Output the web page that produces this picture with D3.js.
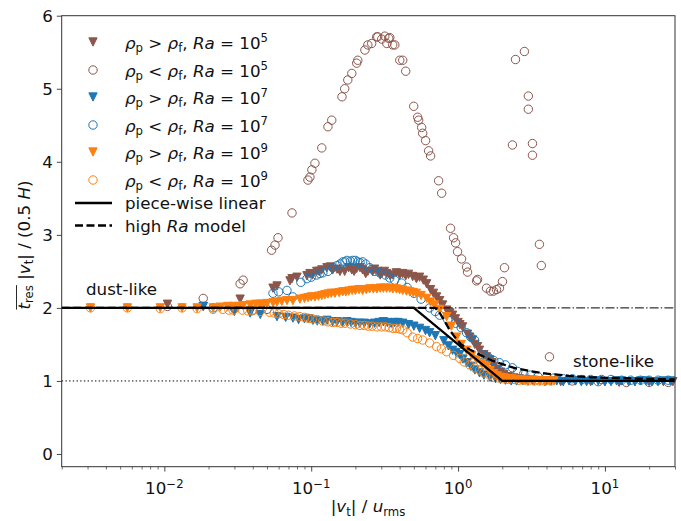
<!DOCTYPE html>
<html>
<head>
<meta charset="utf-8">
<script src="https://cdn.jsdelivr.net/npm/d3@7"></script>
<style>
  body { margin: 0; background: #fff; }
  svg { display: block; font-family: "DejaVu Sans", sans-serif; }
</style>
</head>
<body>
<svg id="chart" width="681" height="521"></svg>
<script>
// values
const brownTriX = [0.0105, 0.0184, 0.0328, 0.0549, 0.0585, 0.0717, 0.074, 0.08, 0.0935, 0.098, 0.102, 0.109, 0.113, 0.118, 0.128, 0.135, 0.14, 0.15, 0.157, 0.169, 0.18, 0.189, 0.196, 0.204, 0.215, 0.224, 0.235, 0.243, 0.262, 0.27, 0.284, 0.295, 0.302, 0.315, 0.327, 0.345, 0.359, 0.38, 0.401, 0.42, 0.44, 0.46, 0.491, 0.52, 0.547, 0.58, 0.611, 0.65, 0.68, 0.714, 0.75, 0.785, 0.836, 0.88, 0.918, 0.96, 1.0, 1.03, 1.073, 1.16, 1.2, 1.255, 1.3, 1.357, 1.4, 1.5, 1.562, 1.636, 1.7, 1.75, 1.85, 1.95, 2.05, 2.2, 2.4, 2.6, 2.9, 3.2, 4, 5, 6.3, 8, 10, 12.5, 16, 20, 25, 29];
const brownTriY = [2.05, 2.02, 2.12, 2.27, 2.3, 2.37, 2.4, 2.42, 2.44, 2.47, 2.45, 2.5, 2.5, 2.52, 2.55, 2.56, 2.52, 2.53, 2.5, 2.5, 2.55, 2.52, 2.5, 2.54, 2.55, 2.52, 2.47, 2.5, 2.5, 2.53, 2.5, 2.45, 2.47, 2.5, 2.47, 2.44, 2.45, 2.48, 2.45, 2.47, 2.44, 2.46, 2.43, 2.4, 2.42, 2.38, 2.33, 2.25, 2.2, 2.15, 2.1, 2.04, 1.97, 1.93, 1.9, 1.85, 1.8, 1.77, 1.74, 1.64, 1.6, 1.56, 1.5, 1.47, 1.42, 1.36, 1.33, 1.29, 1.25, 1.2, 1.16, 1.12, 1.09, 1.06, 1.04, 1.03, 1.02, 1.01, 1.0, 0.99, 1.0, 0.99, 0.99, 0.98, 0.99, 0.99, 0.99, 0.99];

const brownCircX = [0.0105, 0.0184, 0.0328, 0.0344, 0.0537, 0.0567, 0.0594, 0.074, 0.095, 0.098, 0.101, 0.106, 0.118, 0.13, 0.138, 0.162, 0.169, 0.1775, 0.189, 0.204, 0.2075, 0.232, 0.243, 0.258, 0.279, 0.284, 0.302, 0.317, 0.327, 0.337, 0.343, 0.359, 0.371, 0.401, 0.42, 0.44, 0.499, 0.531, 0.539, 0.565, 0.574, 0.601, 0.63, 0.65, 0.737, 0.773, 0.889, 0.932, 0.962, 0.992, 1.056, 1.142, 1.16, 1.336, 1.357, 1.562, 1.662, 1.742, 1.827, 1.914, 2.006, 2.07, 2.345, 2.46, 2.83, 3.01, 3.01, 3.21, 3.21, 3.58, 3.69, 4.19, 6, 9, 14, 20, 27];
const brownCircY = [2.02, 2.13, 2.33, 2.38, 2.79, 2.86, 2.96, 3.3, 3.75, 3.79, 3.89, 3.98, 4.19, 4.48, 4.57, 4.89, 5.0, 5.12, 5.21, 5.35, 5.39, 5.53, 5.6, 5.62, 5.71, 5.71, 5.68, 5.72, 5.62, 5.69, 5.7, 5.6, 5.6, 5.39, 5.39, 5.24, 4.76, 4.61, 4.57, 4.47, 4.39, 4.29, 4.15, 4.08, 3.74, 3.57, 3.09, 2.96, 2.89, 2.77, 2.67, 2.56, 2.49, 2.37, 2.39, 2.27, 2.23, 2.23, 2.25, 2.27, 2.36, 2.55, 4.23, 5.4, 5.51, 4.9, 4.72, 4.25, 4.09, 2.87, 2.58, 1.33, 1.0, 0.99, 0.98, 0.98, 0.98];

const blueTriX = [0.0184, 0.03, 0.0384, 0.045, 0.0585, 0.067, 0.0751, 0.082, 0.09, 0.096, 0.1028, 0.11, 0.12, 0.128, 0.14, 0.15, 0.163, 0.175, 0.187, 0.2, 0.214, 0.23, 0.25, 0.27, 0.29, 0.31, 0.33, 0.35, 0.37, 0.39, 0.42, 0.46, 0.5, 0.547, 0.6, 0.64, 0.7, 0.8, 0.86, 0.918, 0.97, 1.024, 1.08, 1.15, 1.22, 1.3, 1.4, 1.5, 1.65, 1.8, 1.95, 2.1, 2.3, 2.5, 2.75, 3, 3.3, 3.6, 3.9, 4.3, 4.7, 5.2, 5.7, 6.3, 6.9, 7.5, 8.2, 9, 10, 11, 12, 13, 14.5, 16, 17.5, 19, 21, 23, 25, 28];
const blueTriY = [2.02, 1.95, 1.93, 1.91, 1.88, 1.87, 1.86, 1.84, 1.85, 1.85, 1.83, 1.82, 1.82, 1.83, 1.81, 1.81, 1.8, 1.81, 1.8, 1.79, 1.79, 1.79, 1.78, 1.79, 1.8, 1.81, 1.8, 1.79, 1.8, 1.8, 1.79, 1.77, 1.75, 1.72, 1.69, 1.66, 1.62, 1.55, 1.48, 1.42, 1.39, 1.36, 1.3, 1.25, 1.2, 1.15, 1.11, 1.08, 1.05, 1.03, 1.02, 1.01, 1.0, 1.0, 1.0, 1.0, 1.0, 1.0, 0.99, 1.0, 1.0, 0.99, 1.0, 1.0, 0.99, 0.99, 1.0, 1.0, 0.99, 0.99, 1.0, 1.0, 0.99, 0.99, 1.0, 1.0, 0.99, 0.99, 1.0, 1.0];

const blueCircX = [0.0215, 0.03, 0.04, 0.05, 0.0549, 0.06, 0.0684, 0.075, 0.085, 0.0935, 0.1, 0.109, 0.1146, 0.12, 0.13, 0.14, 0.15, 0.157, 0.164, 0.17, 0.175, 0.185, 0.192, 0.2, 0.207, 0.215, 0.224, 0.235, 0.25, 0.27, 0.293, 0.32, 0.343, 0.37, 0.413, 0.45, 0.5, 0.56, 0.64, 0.7, 0.749, 0.85, 0.962, 1.05, 1.142, 1.22, 1.295, 1.466, 1.55, 1.636, 1.75, 1.914, 2.1, 2.345, 2.55, 2.8, 3.1, 3.5, 4, 4.5, 5.2, 6, 7, 8, 9.5, 11, 13, 15, 17.5, 20, 23, 27];
const blueCircY = [2.0, 1.99, 1.97, 1.98, 2.2, 2.22, 2.24, 2.15, 2.35, 2.4, 2.42, 2.45, 2.47, 2.48, 2.5, 2.55, 2.58, 2.6, 2.63, 2.63, 2.65, 2.64, 2.65, 2.65, 2.63, 2.62, 2.63, 2.6, 2.55, 2.5, 2.48, 2.45, 2.41, 2.38, 2.34, 2.28, 2.2, 2.12, 2.0, 1.95, 1.9, 1.84, 1.79, 1.73, 1.66, 1.6, 1.56, 1.36, 1.33, 1.31, 1.28, 1.25, 1.22, 1.18, 1.13, 1.1, 1.08, 1.06, 1.05, 1.04, 1.03, 1.03, 1.02, 1.02, 1.02, 1.02, 1.01, 1.01, 1.01, 1.01, 1.01, 1.01];

const orangeTriX = [0.00314, 0.0056, 0.00938, 0.0132, 0.0167, 0.0215, 0.024, 0.027, 0.0294, 0.032, 0.0344, 0.0384, 0.042, 0.0448, 0.047, 0.05, 0.055, 0.0585, 0.063, 0.0684, 0.075, 0.0838, 0.09, 0.095, 0.1, 0.106, 0.112, 0.118, 0.124, 0.13, 0.137, 0.145, 0.155, 0.164, 0.172, 0.18, 0.19, 0.2, 0.212, 0.224, 0.237, 0.25, 0.265, 0.28, 0.295, 0.31, 0.326, 0.343, 0.36, 0.38, 0.4, 0.42, 0.445, 0.47, 0.495, 0.52, 0.56, 0.611, 0.65, 0.692, 0.75, 0.836, 0.9, 0.977, 1.05, 1.142, 1.24, 1.336, 1.45, 1.562, 1.65, 1.75, 1.85, 1.95, 2.05, 2.2, 2.3, 2.5, 2.65, 2.8, 3.0, 3.3, 3.6, 3.9, 4.2, 4.5];
const orangeTriY = [2.0, 2.0, 2.0, 2.0, 2.0, 2.0, 2.01, 2.02, 2.02, 2.02, 2.03, 2.04, 2.05, 2.05, 2.05, 2.06, 2.07, 2.08, 2.09, 2.1, 2.1, 2.12, 2.13, 2.14, 2.15, 2.15, 2.16, 2.17, 2.18, 2.19, 2.2, 2.2, 2.21, 2.22, 2.22, 2.23, 2.24, 2.24, 2.25, 2.24, 2.25, 2.26, 2.26, 2.26, 2.27, 2.27, 2.27, 2.27, 2.26, 2.26, 2.25, 2.24, 2.23, 2.22, 2.21, 2.2, 2.17, 2.13, 2.08, 2.04, 1.98, 1.88, 1.75, 1.6, 1.5, 1.42, 1.35, 1.29, 1.24, 1.2, 1.14, 1.1, 1.07, 1.05, 1.04, 1.03, 1.03, 1.02, 1.02, 1.01, 1.01, 1.01, 1.0, 1.0, 1.0, 1.0];

const orangeCircX = [0.00314, 0.0056, 0.00938, 0.0132, 0.0167, 0.0215, 0.025, 0.0275, 0.0294, 0.034, 0.037, 0.04, 0.0448, 0.052, 0.056, 0.06, 0.065, 0.07, 0.077, 0.0838, 0.09, 0.095, 0.102, 0.11, 0.12, 0.13, 0.14, 0.15, 0.16, 0.17, 0.185, 0.2, 0.215, 0.23, 0.245, 0.26, 0.28, 0.3, 0.32, 0.34, 0.36, 0.38, 0.4, 0.42, 0.45, 0.491, 0.53, 0.574, 0.64, 0.714, 0.77, 0.836, 0.93, 1.024, 1.1, 1.197, 1.3, 1.4, 1.5, 1.636, 1.75, 1.9, 2.05, 2.2, 2.4, 2.6, 2.8, 3.0, 3.3, 3.6, 3.9, 4.3];
const orangeCircY = [2.0, 2.0, 1.99, 2.0, 1.99, 1.98, 1.98, 1.97, 1.97, 1.97, 1.96, 1.96, 1.95, 1.94, 1.93, 1.92, 1.91, 1.9, 1.89, 1.88, 1.87, 1.86, 1.85, 1.84, 1.82, 1.81, 1.8, 1.8, 1.79, 1.79, 1.78, 1.77, 1.76, 1.76, 1.75, 1.75, 1.74, 1.74, 1.74, 1.73, 1.72, 1.72, 1.71, 1.7, 1.66, 1.6, 1.58, 1.56, 1.52, 1.47, 1.44, 1.4, 1.35, 1.31, 1.26, 1.22, 1.18, 1.15, 1.11, 1.08, 1.05, 1.04, 1.03, 1.02, 1.02, 1.01, 1.01, 1.0, 1.0, 1.0, 1.0, 1.0];

const pieceX = [0.002, 0.5, 2, 30];
const pieceY = [2, 2, 1, 1];

const highRaX = [0.002, 0.7, 0.75, 0.8, 0.875, 0.95, 1.05, 1.2, 1.4, 1.7, 2.0, 2.5, 3.0, 4.0, 5.7, 8, 12, 18, 30];
const highRaY = [2.0, 2.0, 1.93, 1.84, 1.7, 1.6, 1.5, 1.43, 1.36, 1.28, 1.23, 1.17, 1.14, 1.1, 1.07, 1.05, 1.04, 1.03, 1.02];

const xTicks = [0.01, 0.1, 1, 10];
const xTickExp = ["−2", "−1", "0", "1"];
const yTicks = [0, 1, 2, 3, 4, 5, 6];

const brown = "#8c564b", blue = "#1f77b4", orange = "#ff7f0e";
const fs = 16.7, fsSmall = 11.7;

const svg = d3.select("#chart");
const x = d3.scaleLog().domain([0.002, 30]).range([61.7, 675]);
const y = d3.scaleLinear().domain([-0.174, 6]).range([466.7, 15.7]);

// write matplotlib-like math text into a text element
function addParts(text, parts) {
  let shift = 0;
  parts.forEach(p => {
    const target = p.k === "sub" ? 3.5 : p.k === "sup" ? -6.5 : 0;
    const t = text.append("tspan").text(p.t).attr("dy", target - shift);
    shift = target;
    if (p.k) t.attr("font-size", fsSmall);
    if (p.i) t.attr("font-style", "italic");
  });
}

// axes
let minors = [];
[0.001, 0.01, 0.1, 1, 10].forEach(dec => {
  for (let m = 2; m <= 9; m++) {
    const v = dec * m;
    if (v >= 0.002 && v <= 30) minors.push(v);
  }
});

svg.append("g")
  .attr("transform", "translate(0,466.7)")
  .call(d3.axisBottom(x).tickValues(minors).tickSize(2.8).tickFormat(""))
  .call(g => g.select(".domain").remove())
  .selectAll("line").attr("stroke", "#333").attr("stroke-width", 0.7);

const xAx = svg.append("g")
  .attr("transform", "translate(0,466.7)")
  .call(d3.axisBottom(x).tickValues(xTicks).tickSize(4.9).tickFormat(""))
  .call(g => g.select(".domain").remove());
xAx.selectAll("line").attr("stroke", "#333").attr("stroke-width", 0.9);

xTicks.forEach((v, i) => {
  const t = svg.append("text")
    .attr("x", x(v))
    .attr("y", 494)
    .attr("text-anchor", "middle")
    .attr("font-size", fs)
    .attr("fill", "#111");
  addParts(t, [{ t: "10" }, { t: xTickExp[i], k: "sup" }]);
});

const yAx = svg.append("g")
  .attr("transform", "translate(61.7,0)")
  .call(d3.axisLeft(y).tickValues(yTicks).tickSize(4.9).tickPadding(4).tickFormat(d3.format("d")))
  .call(g => g.select(".domain").remove());
yAx.selectAll("line").attr("stroke", "#333").attr("stroke-width", 0.9);
yAx.selectAll("text").attr("font-size", fs).attr("font-family", "DejaVu Sans").attr("fill", "#111");

// markers
const triPath = "M0,4.15L-4.15,-4.15L4.15,-4.15Z";

function drawSeries(xs, ys, color, shape) {
  const pts = xs.map((d, i) => ({ x: d, y: ys[i] }));
  const g = svg.append("g");
  if (shape === "tri") {
    g.selectAll("path")
      .data(pts)
      .enter()
      .append("path")
      .attr("d", triPath)
      .attr("transform", d => `translate(${x(d.x)},${y(d.y)})`)
      .attr("fill", color)
      .attr("stroke", color)
      .attr("stroke-width", 1);
  } else {
    g.selectAll("circle")
      .data(pts)
      .enter()
      .append("circle")
      .attr("cx", d => x(d.x))
      .attr("cy", d => y(d.y))
      .attr("r", 4.2)
      .attr("fill", "none")
      .attr("stroke", color)
      .attr("stroke-width", 1);
  }
}

drawSeries(brownTriX, brownTriY, brown, "tri");
drawSeries(brownCircX, brownCircY, brown, "circ");
drawSeries(blueTriX, blueTriY, blue, "tri");
drawSeries(blueCircX, blueCircY, blue, "circ");
drawSeries(orangeTriX, orangeTriY, orange, "tri");
drawSeries(orangeCircX, orangeCircY, orange, "circ");

// reference and model lines
const line = d3.line().x(d => x(d[0])).y(d => y(d[1]));

svg.append("path")
  .datum([[0.002, 2], [30, 2]])
  .attr("d", line)
  .attr("fill", "none")
  .attr("stroke", "#000")
  .attr("stroke-width", 1)
  .attr("stroke-dasharray", "8.9,2.2,1.4,2.2");

svg.append("path")
  .datum([[0.002, 1], [30, 1]])
  .attr("d", line)
  .attr("fill", "none")
  .attr("stroke", "#000")
  .attr("stroke-width", 1)
  .attr("stroke-dasharray", "1.4,2.3");

svg.append("path")
  .datum(pieceX.map((d, i) => [d, pieceY[i]]))
  .attr("d", line)
  .attr("fill", "none")
  .attr("stroke", "#000")
  .attr("stroke-width", 2.3);

svg.append("path")
  .datum(highRaX.map((d, i) => [d, highRaY[i]]))
  .attr("d", line)
  .attr("fill", "none")
  .attr("stroke", "#000")
  .attr("stroke-width", 2.3)
  .attr("stroke-dasharray", "8,3.5");

// frame
svg.append("rect")
  .attr("x", 61.7)
  .attr("y", 15.7)
  .attr("width", 675 - 61.7)
  .attr("height", 466.7 - 15.7)
  .attr("fill", "none")
  .attr("stroke", "#333")
  .attr("stroke-width", 1);

// annotations
svg.append("text").attr("x", 86).attr("y", 295).attr("font-size", fs).attr("fill", "#111").text("dust-like");
svg.append("text").attr("x", 573).attr("y", 366.5).attr("font-size", fs).attr("fill", "#111").text("stone-like");

// legend
const legendSeries = [
  { color: brown, shape: "tri", cmp: ">", exp: "5" },
  { color: brown, shape: "circ", cmp: "<", exp: "5" },
  { color: blue, shape: "tri", cmp: ">", exp: "7" },
  { color: blue, shape: "circ", cmp: "<", exp: "7" },
  { color: orange, shape: "tri", cmp: ">", exp: "9" },
  { color: orange, shape: "circ", cmp: "<", exp: "9" }
];
const legendRowY = [42, 70, 97, 125, 152, 180];

const lg = svg.append("g");
legendSeries.forEach((s, i) => {
  const cy = legendRowY[i];
  if (s.shape === "tri") {
    lg.append("path").attr("d", triPath).attr("transform", `translate(93,${cy})`)
      .attr("fill", s.color).attr("stroke", s.color);
  } else {
    lg.append("circle").attr("cx", 93).attr("cy", cy).attr("r", 4.2)
      .attr("fill", "none").attr("stroke", s.color);
  }
  const t = lg.append("text").attr("x", 125).attr("y", cy + 6.5).attr("font-size", fs).attr("fill", "#111");
  addParts(t, [
    { t: "ρ", i: 1 }, { t: "p", k: "sub" }, { t: " " + s.cmp + " " }, { t: "ρ", i: 1 }, { t: "f", k: "sub" },
    { t: ", " }, { t: "Ra", i: 1 }, { t: " = 10" }, { t: s.exp, k: "sup" }
  ]);
});

lg.append("line").attr("x1", 75).attr("x2", 112).attr("y1", 203).attr("y2", 203)
  .attr("stroke", "#000").attr("stroke-width", 2.3);
lg.append("text").attr("x", 125).attr("y", 209).attr("font-size", fs).attr("fill", "#111").text("piece-wise linear");
lg.append("line").attr("x1", 75).attr("x2", 112).attr("y1", 225.5).attr("y2", 225.5)
  .attr("stroke", "#000").attr("stroke-width", 2.3).attr("stroke-dasharray", "8,3.5");
const hl = lg.append("text").attr("x", 125).attr("y", 231.5).attr("font-size", fs).attr("fill", "#111");
addParts(hl, [{ t: "high " }, { t: "Ra", i: 1 }, { t: " model" }]);

// axis labels
const xl = svg.append("text").attr("x", 368).attr("y", 512).attr("text-anchor", "middle")
  .attr("font-size", fs).attr("fill", "#111");
addParts(xl, [{ t: "|" }, { t: "v", i: 1 }, { t: "t", k: "sub" }, { t: "| / " }, { t: "u", i: 1 }, { t: "rms", k: "sub" }]);

const yg = svg.append("g").attr("transform", "translate(29.5,245) rotate(-90)");
const yl = yg.append("text").attr("x", 0).attr("y", 0).attr("text-anchor", "middle")
  .attr("font-size", fs).attr("fill", "#111");
addParts(yl, [
  { t: "t", i: 1 }, { t: "res", k: "sub" }, { t: "  |" }, { t: "v", i: 1 }, { t: "t", k: "sub" },
  { t: "| / (0.5 " }, { t: "H", i: 1 }, { t: ")" }
]);
const node = yl.node();
const x0 = node.getStartPositionOfChar(0).x;
const x1 = node.getEndPositionOfChar(3).x;
yg.append("line").attr("x1", x0).attr("x2", x1).attr("y1", -13).attr("y2", -13)
  .attr("stroke", "#111").attr("stroke-width", 0.9);
</script>
</body>
</html>
